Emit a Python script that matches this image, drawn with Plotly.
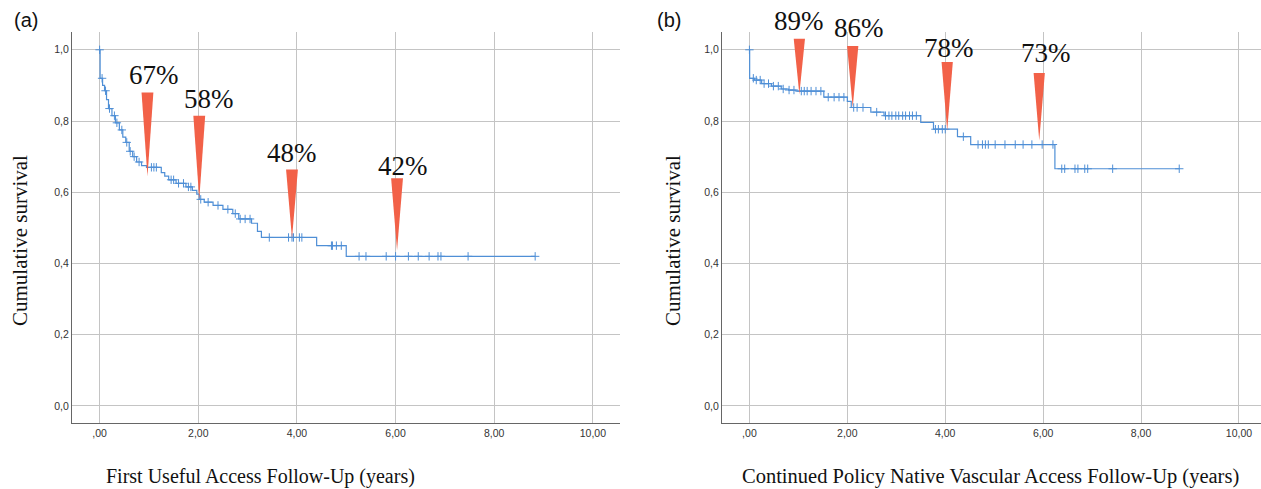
import numpy as np
import plotly.graph_objects as go

# ---------------- data: panel (a) ----------------
a_times = [0, 0.01, 0.06, 0.10, 0.14, 0.18, 0.25, 0.32, 0.40, 0.47, 0.53, 0.60, 0.67, 0.75, 0.85, 0.95,
           1.25, 1.32, 1.40, 1.55, 1.75, 1.88, 1.97, 2.02, 2.12, 2.30, 2.50, 2.70, 2.82, 3.08, 3.20, 3.28,
           4.40, 5.00]
a_surv = [1.0, 0.92, 0.90, 0.885, 0.86, 0.835, 0.815, 0.795, 0.775, 0.755, 0.74, 0.715, 0.70, 0.685, 0.675, 0.67,
          0.655, 0.645, 0.635, 0.625, 0.615, 0.605, 0.595, 0.58, 0.572, 0.563, 0.552, 0.54, 0.525, 0.513, 0.49, 0.473,
          0.45, 0.42]
a_censor = [0.0, 0.05, 0.12, 0.20, 0.30, 0.35, 0.45, 0.55, 0.62, 0.70, 0.80, 1.05, 1.10, 1.15, 1.45, 1.50, 1.60,
            1.70, 1.80, 1.85, 2.05, 2.20, 2.40, 2.60, 2.75, 2.85, 2.95, 3.05,
            3.44, 3.83, 3.90, 3.93, 4.05, 4.10, 4.70, 4.72, 4.80, 4.90,
            5.26, 5.40, 5.81, 6.00, 6.26, 6.46, 6.68, 6.86, 6.92, 7.47, 8.83]
a_label_text = ["67%", "58%", "48%", "42%"]
a_label_x = [1.11, 2.21, 3.91, 6.15]
a_label_y = [0.93, 0.863, 0.709, 0.675]
a_arrow_x = [0.97, 2.02, 3.90, 6.03]
a_arrow_top = [0.88, 0.815, 0.664, 0.639]
a_arrow_tip = [0.644, 0.58, 0.47, 0.437]

# ---------------- data: panel (b) ----------------
b_times = [0, 0.005, 0.10, 0.25, 0.45, 0.65, 0.80, 0.95, 1.52, 2.00, 2.08, 2.48, 2.75, 3.50, 3.76, 4.25, 4.52, 6.24]
b_surv = [1.0, 0.92, 0.915, 0.905, 0.898, 0.89, 0.887, 0.884, 0.867, 0.855, 0.838, 0.825, 0.815, 0.796, 0.777,
          0.756, 0.734, 0.666]
b_censor = [0.0, 0.08, 0.14, 0.22, 0.30, 0.39, 0.49, 0.59, 0.69, 0.81, 0.91,
            1.06, 1.12, 1.18, 1.26, 1.36, 1.46, 1.61, 1.73, 1.83, 1.93,
            2.13, 2.20, 2.32, 2.60, 2.78, 2.85, 2.91, 2.99, 3.05, 3.13, 3.19, 3.27, 3.33, 3.41,
            3.80, 3.86, 3.94, 4.00, 4.37,
            4.67, 4.76, 4.82, 4.88, 5.02, 5.22, 5.43, 5.59, 5.77, 5.98, 6.20,
            6.38, 6.44, 6.65, 6.71, 6.85, 6.91, 7.42, 8.78]
b_label_text = ["89%", "86%", "78%", "73%"]
b_label_x = [1.02, 2.24, 4.07, 6.06]
b_label_y = [1.082, 1.062, 1.006, 0.992]
b_arrow_x = [1.02, 2.11, 4.04, 5.92]
b_arrow_top = [1.031, 1.011, 0.966, 0.935]
b_arrow_tip = [0.875, 0.838, 0.773, 0.745]

x_tickvals = [0, 2, 4, 6, 8, 10]
x_ticktext = [",00", "2,00", "4,00", "6,00", "8,00", "10,00"]
y_tickvals = [0, 0.2, 0.4, 0.6, 0.8, 1.0]
y_ticktext = ["0,0", "0,2", "0,4", "0,6", "0,8", "1,0"]

a_xtitle = "First Useful Access Follow-Up (years)"
b_xtitle = "Continued Policy Native Vascular Access Follow-Up (years)"
ytitle = "Cumulative survival"

LINE = "#4f8fd6"
RED = "#f26148"
W, H = 1261, 489
Y_RANGE = [-0.048, 1.05]

fig = go.Figure()


def km_traces(times, surv, censor, xa, ya):
    times = np.asarray(times, float)
    surv = np.asarray(surv, float)
    cens = np.asarray(censor, float)
    end = max(cens.max(), times.max())
    xs = np.append(times, end)
    ys = np.append(surv, surv[-1])
    fig.add_trace(go.Scatter(x=xs, y=ys, mode="lines", line=dict(color=LINE, width=1.2, shape="hv"),
                             xaxis=xa, yaxis=ya, showlegend=False, hoverinfo="skip"))
    idx = np.searchsorted(times, cens, side="right") - 1
    cy = surv[idx]
    fig.add_trace(go.Scatter(x=cens, y=cy, mode="markers",
                             marker=dict(symbol="cross-thin", size=6, line=dict(color=LINE, width=1)),
                             xaxis=xa, yaxis=ya, showlegend=False, hoverinfo="skip"))


km_traces(a_times, a_surv, a_censor, "x", "y")
km_traces(b_times, b_surv, b_censor, "x2", "y2")

shapes = []
annotations = []


def wedges(xs, tops, tips, half, xr, yr):
    for x, t, p in zip(xs, tops, tips):
        shapes.append(dict(type="path", xref=xr, yref=yr,
                           path=f"M {x - half},{t} L {x + half},{t} L {x},{p} Z",
                           fillcolor=RED, line=dict(width=0), layer="above"))


def labels(texts, xs, ys, xr, yr):
    # y given in data units, placed through the axis domain so labels above the range stay visible
    for s, x, y in zip(texts, xs, ys):
        yd = (y - Y_RANGE[0]) / (Y_RANGE[1] - Y_RANGE[0])
        annotations.append(dict(text=s, x=x, y=yd, xref=xr, yref=yr + " domain", showarrow=False,
                                xanchor="center", yanchor="middle",
                                font=dict(family="Liberation Serif", size=27, color="#111111")))


wedges(a_arrow_x, a_arrow_top, a_arrow_tip, 0.12, "x", "y")
wedges(b_arrow_x, b_arrow_top, b_arrow_tip, 0.115, "x2", "y2")
labels(a_label_text, a_label_x, a_label_y, "x", "y")
labels(b_label_text, b_label_x, b_label_y, "x2", "y2")


def serif(sz):
    return dict(family="Liberation Serif", size=sz, color="#111111")


annotations += [
    dict(text=a_xtitle, x=260 / W, y=1 - 476 / H, xref="paper", yref="paper", showarrow=False,
         xanchor="center", yanchor="middle", font=serif(20)),
    dict(text=b_xtitle, x=990 / W, y=1 - 476 / H, xref="paper", yref="paper", showarrow=False,
         xanchor="center", yanchor="middle", font=serif(20.5)),
    dict(text=ytitle, x=20 / W, y=1 - 241 / H, xref="paper", yref="paper", showarrow=False, textangle=-90,
         xanchor="center", yanchor="middle", font=serif(21)),
    dict(text=ytitle, x=673 / W, y=1 - 241 / H, xref="paper", yref="paper", showarrow=False, textangle=-90,
         xanchor="center", yanchor="middle", font=serif(21)),
    dict(text="(a)", x=26 / W, y=1 - 20 / H, xref="paper", yref="paper", showarrow=False,
         xanchor="center", yanchor="middle", font=dict(family="Liberation Sans", size=20, color="#111111")),
    dict(text="(b)", x=669 / W, y=1 - 20 / H, xref="paper", yref="paper", showarrow=False,
         xanchor="center", yanchor="middle", font=dict(family="Liberation Sans", size=20, color="#111111")),
]

ydom = [1 - 423 / H, 1 - 32 / H]
tickfont = dict(family="Liberation Sans", size=10.5, color="#333333")
xaxis_common = dict(tickvals=x_tickvals, ticktext=x_ticktext, showgrid=True, gridcolor="#c4c4c4", gridwidth=1,
                    zeroline=False, showline=True, linecolor="#666666", linewidth=1.2, ticks="",
                    tickfont=tickfont)
yaxis_common = dict(tickvals=y_tickvals, ticktext=y_ticktext, showgrid=True, gridcolor="#c4c4c4", gridwidth=1,
                    zeroline=False, showline=True, linecolor="#666666", linewidth=1.2, ticks="",
                    tickfont=tickfont, range=Y_RANGE, domain=ydom)

fig.update_layout(
    width=W, height=H, margin=dict(l=0, r=0, t=0, b=0),
    paper_bgcolor="white", plot_bgcolor="white", showlegend=False,
    xaxis=dict(xaxis_common, domain=[72 / W, 620 / W], range=[-0.56, 10.55], anchor="y"),
    yaxis=dict(yaxis_common, anchor="x"),
    xaxis2=dict(xaxis_common, domain=[722 / W, 1.0], range=[-0.56, 10.45], anchor="y2"),
    yaxis2=dict(yaxis_common, anchor="x2"),
    shapes=shapes, annotations=annotations,
)

fig.write_html("out.html", config={"displayModeBar": False},
               post_script="document.body.style.margin='0';document.body.style.overflow='hidden';")
